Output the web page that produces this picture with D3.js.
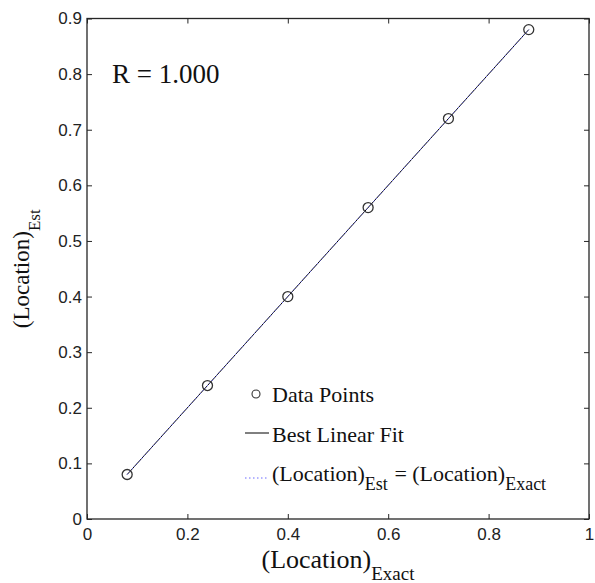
<!DOCTYPE html>
<html>
<head>
<meta charset="utf-8">
<script src="https://cdn.jsdelivr.net/npm/d3@7"></script>
<style>
  html, body { margin: 0; padding: 0; background: #fff; }
  svg { display: block; }
  .serif { font-family: "Liberation Serif", "Times New Roman", Times, "DejaVu Serif", serif; }
  .sans { font-family: "Liberation Sans", Arial, Helvetica, sans-serif; }
</style>
</head>
<body>
<svg id="chart" width="595" height="583"></svg>
<script>
// ---- data ----
const locationExact = [0.08, 0.24, 0.40, 0.56, 0.72, 0.88];
const locationEst   = [0.08, 0.24, 0.40, 0.56, 0.72, 0.88];
const xTicks = [0, 0.2, 0.4, 0.6, 0.8, 1];
const yTicks = [0, 0.1, 0.2, 0.3, 0.4, 0.5, 0.6, 0.7, 0.8, 0.9];
const rText = "R = 1.000";
const legendLabels = ["Data Points", "Best Linear Fit"];

// ---- layout ----
const svg = d3.select("#chart");
const L = 87, R = 589, T = 18.5, B = 519;
const x = d3.scaleLinear().domain([0, 1]).range([L, R]);
const y = d3.scaleLinear().domain([0, 0.9]).range([B, T]);
const axisColor = "#262626";

// linear fit
const n = locationExact.length;
const mx = d3.mean(locationExact), my = d3.mean(locationEst);
let sxy = 0, sxx = 0;
for (let i = 0; i < n; i++) { sxy += (locationExact[i]-mx)*(locationEst[i]-my); sxx += (locationExact[i]-mx)**2; }
const slope = sxy / sxx, intercept = my - slope * mx;
const xMin = d3.min(locationExact), xMax = d3.max(locationExact);

// frame
svg.append("rect").attr("x", L).attr("y", T).attr("width", R - L).attr("height", B - T)
  .attr("fill", "none").attr("stroke", axisColor).attr("stroke-width", 1.3);

// axes with inward ticks
const gx = svg.append("g").attr("transform", `translate(0,${B})`)
  .call(d3.axisBottom(x).tickValues(xTicks).tickSize(-5).tickPadding(9).tickFormat(d3.format("")));
const gxt = svg.append("g").attr("transform", `translate(0,${T})`)
  .call(d3.axisTop(x).tickValues(xTicks).tickSize(-5).tickFormat(""));
const gy = svg.append("g").attr("transform", `translate(${L},0)`)
  .call(d3.axisLeft(y).tickValues(yTicks).tickSize(-5).tickPadding(5).tickFormat(d => String(+d.toFixed(1))));
const gyr = svg.append("g").attr("transform", `translate(${R},0)`)
  .call(d3.axisRight(y).tickValues(yTicks).tickSize(-5).tickFormat(""));
[gx, gxt, gy, gyr].forEach(g => {
  g.attr("font-family", null).attr("font-size", null);
  g.select(".domain").remove();
  g.selectAll(".tick line").attr("stroke", axisColor).attr("stroke-width", 1);
  g.selectAll(".tick text").attr("fill", "#222").attr("class", "sans").style("font-size", "17px");
});

// best fit (black) and identity line (dotted blue)
svg.append("line")
  .attr("x1", x(xMin)).attr("y1", y(slope * xMin + intercept))
  .attr("x2", x(xMax)).attr("y2", y(slope * xMax + intercept))
  .attr("stroke", "#000").attr("stroke-width", 1);
svg.append("line")
  .attr("x1", x(xMin)).attr("y1", y(xMin))
  .attr("x2", x(xMax)).attr("y2", y(xMax))
  .attr("stroke", "#6a6aff").attr("stroke-width", 1).attr("stroke-dasharray", "1.5,2").attr("opacity", 0.9);

// data points
svg.append("g").selectAll("circle").data(locationExact).join("circle")
  .attr("cx", d => x(d)).attr("cy", (d, i) => y(locationEst[i]))
  .attr("r", 5).attr("fill", "none").attr("stroke", "#333").attr("stroke-width", 1.3);

// R text
svg.append("text").attr("class", "serif").attr("x", 112).attr("y", 83).text(rText)
  .style("font-size", "27px").attr("fill", "#111");

// axis labels
const xl = svg.append("text").attr("class", "serif").attr("x", (L + R) / 2).attr("y", 568)
  .attr("text-anchor", "middle").style("font-size", "26px").attr("fill", "#111");
xl.append("tspan").text("(Location)");
xl.append("tspan").text("Exact").attr("dy", 12).style("font-size", "19px");

const yl = svg.append("text").attr("class", "serif")
  .attr("transform", `translate(29,${(T + B) / 2}) rotate(-90)`)
  .attr("text-anchor", "middle").style("font-size", "23px").attr("fill", "#111");
yl.append("tspan").text("(Location)");
yl.append("tspan").text("Est").attr("dy", 11).style("font-size", "17px");

// legend
const lg = svg.append("g");
const lx0 = 245, lx1 = 269, tx = 272;
lg.append("circle").attr("cx", 256).attr("cy", 394).attr("r", 4)
  .attr("fill", "none").attr("stroke", "#333").attr("stroke-width", 1.1);
lg.append("text").attr("class", "serif").attr("x", tx).attr("y", 402).text(legendLabels[0])
  .style("font-size", "22px").attr("fill", "#111");
lg.append("line").attr("x1", lx0).attr("x2", lx1).attr("y1", 433).attr("y2", 433)
  .attr("stroke", "#000").attr("stroke-width", 1);
lg.append("text").attr("class", "serif").attr("x", tx).attr("y", 442).text(legendLabels[1])
  .style("font-size", "22px").attr("fill", "#111");
lg.append("line").attr("x1", lx0).attr("x2", lx1).attr("y1", 478).attr("y2", 478)
  .attr("stroke", "#6a6aff").attr("stroke-width", 1).attr("stroke-dasharray", "1.5,2.5");
const t3 = lg.append("text").attr("class", "serif").attr("x", tx).attr("y", 481)
  .style("font-size", "22px").attr("fill", "#111");
t3.append("tspan").text("(Location)");
t3.append("tspan").text("Est").attr("dy", 9).style("font-size", "18px");
t3.append("tspan").text(" = (Location)").attr("dy", -9).attr("dx", 1);
t3.append("tspan").text("Exact").attr("dy", 9).style("font-size", "18px");
</script>
</body>
</html>
